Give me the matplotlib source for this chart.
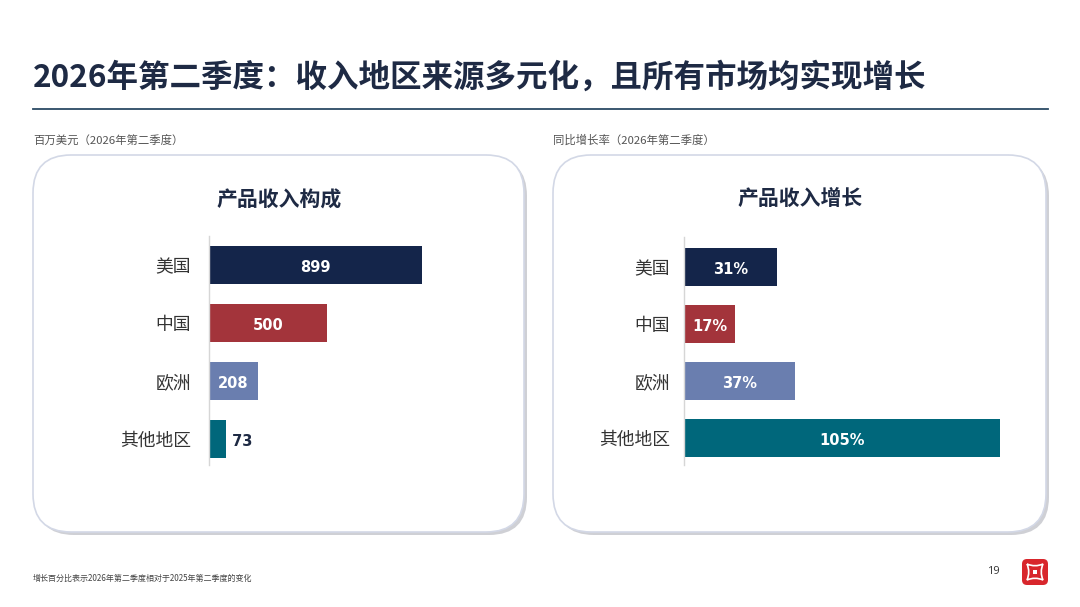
import matplotlib
matplotlib.use("Agg")
import matplotlib.pyplot as plt
from matplotlib.patches import FancyBboxPatch, Rectangle, PathPatch
from matplotlib.path import Path

plt.rcParams['font.family'] = ['Noto Sans CJK SC', 'DejaVu Sans']

# --- data -------------------------------------------------------------
TITLE = "2026年第二季度：收入地区来源多元化，且所有市场均实现增长"
regions = ["美国", "中国", "欧洲", "其他地区"]
revenue = [899, 500, 208, 73]          # 百万美元
growth = [31, 17, 37, 105]             # 同比增长 %
bar_colors = ["#14254a", "#a3343b", "#6a7eaf", "#00677b"]

left_caption = "百万美元（2026年第二季度）"
right_caption = "同比增长率（2026年第二季度）"
left_title = "产品收入构成"
right_title = "产品收入增长"
footnote = "增长百分比表示2026年第二季度相对于2025年第二季度的变化"
page_no = "19"

NAVY = "#1e2a44"
W, H = 1080, 607

fig = plt.figure(figsize=(W / 100, H / 100), dpi=100)
bg = fig.add_axes([0, 0, 1, 1])
bg.set_xlim(0, W)
bg.set_ylim(H, 0)
bg.axis("off")


def fig_axes(x0, y0, x1, y1):
    """axes placed in pixel coords (top-left origin)"""
    return fig.add_axes([x0 / W, 1 - y1 / H, (x1 - x0) / W, (y1 - y0) / H])


# title + rule
bg.text(33, 78, TITLE, fontsize=22.7, fontweight="heavy", color=NAVY,
        va="center", ha="left")
bg.plot([33, 1048], [109, 109], color="#2b4a64", lw=1.3)


def card(x0, y0, x1, y1):
    shadow = FancyBboxPatch((x0 + 3, y0 + 3), x1 - x0, y1 - y0,
                            boxstyle="round,pad=0,rounding_size=38",
                            fc="#cfd0d5", ec="none", zorder=1)
    face = FancyBboxPatch((x0, y0), x1 - x0, y1 - y0,
                          boxstyle="round,pad=0,rounding_size=38",
                          fc="white", ec="#d3d8e6", lw=1.2, zorder=2)
    bg.add_patch(shadow)
    bg.add_patch(face)


card(33, 155, 524, 532)
card(553, 155, 1046, 532)

bg.text(33, 140, left_caption, fontsize=8.2, color="#555555", va="center")
bg.text(553, 140, right_caption, fontsize=8.2, color="#555555", va="center")
bg.text(279, 200, left_title, fontsize=15, fontweight="heavy", color=NAVY,
        ha="center", va="center", zorder=3)
bg.text(800, 198, right_title, fontsize=15, fontweight="heavy", color=NAVY,
        ha="center", va="center", zorder=3)


def bar_panel(ax, values, xmax, ytop, ybot, height, fmt, label_pad):
    ys = list(range(len(values)))
    ax.barh(ys, values, height=height, color=bar_colors, zorder=2)
    ax.set_xlim(0, xmax)
    ax.set_ylim(ybot, ytop)
    for s in ("top", "right", "bottom"):
        ax.spines[s].set_visible(False)
    ax.spines["left"].set_color("#d6d6d6")
    ax.spines["left"].set_linewidth(1.0)
    ax.set_xticks([])
    ax.set_yticks(ys)
    ax.set_yticklabels(regions, fontsize=12.8, color="#333333")
    ax.tick_params(axis="y", length=0, pad=label_pad)
    ax.patch.set_alpha(0)
    for y, v in zip(ys, values):
        txt = fmt(v)
        ty = y + 0.04
        if v > 0.1 * xmax:
            ax.text(v / 2, ty, txt, ha="center", va="center", color="white",
                    fontsize=10.5, fontweight="bold", family="DejaVu Sans",
                    zorder=3)
        else:
            ax.text(v + xmax * 0.004, ty, " " + txt, ha="left", va="center",
                    color=NAVY, fontsize=10.5, fontweight="bold",
                    family="DejaVu Sans", zorder=3)


axL = fig_axes(209, 236, 509, 465)
bar_panel(axL, revenue, 1266, -0.5, 3.45, 0.655, lambda v: f"{v}", 13)

axR = fig_axes(684, 237, 1030, 465)
bar_panel(axR, growth, 115, -0.526, 3.474, 0.667, lambda v: f"{v}%", 10)

# footer
bg.text(33, 578, footnote, fontsize=5.8, color="#444444", va="center")
bg.text(993, 571, page_no, fontsize=8, color="#333333", va="center",
        ha="center", family="Open Sans")

# logo
lx0, ly0, ls = 1022, 559, 26
bg.add_patch(FancyBboxPatch((lx0, ly0), ls, ls,
                            boxstyle="round,pad=0,rounding_size=5",
                            fc="#d8262c", ec="none"))
i = 5
a, b = lx0 + i, lx0 + ls - i
c, d = ly0 + i, ly0 + ls - i
mx, my = lx0 + ls / 2, ly0 + ls / 2
k = 3.5
verts = [(a, c), (mx, c + k), (b, c), (b - k, my), (b, d), (mx, d - k),
         (a, d), (a + k, my), (a, c)]
codes = [Path.MOVETO, Path.CURVE3, Path.CURVE3, Path.CURVE3, Path.CURVE3,
         Path.CURVE3, Path.CURVE3, Path.CURVE3, Path.CURVE3]
bg.add_patch(PathPatch(Path(verts, codes), fc="none", ec="white", lw=1.2))
bg.add_patch(Rectangle((mx - 2, my - 2), 4, 4, fc="white", ec="none"))

fig.savefig("out.png", dpi=100)
